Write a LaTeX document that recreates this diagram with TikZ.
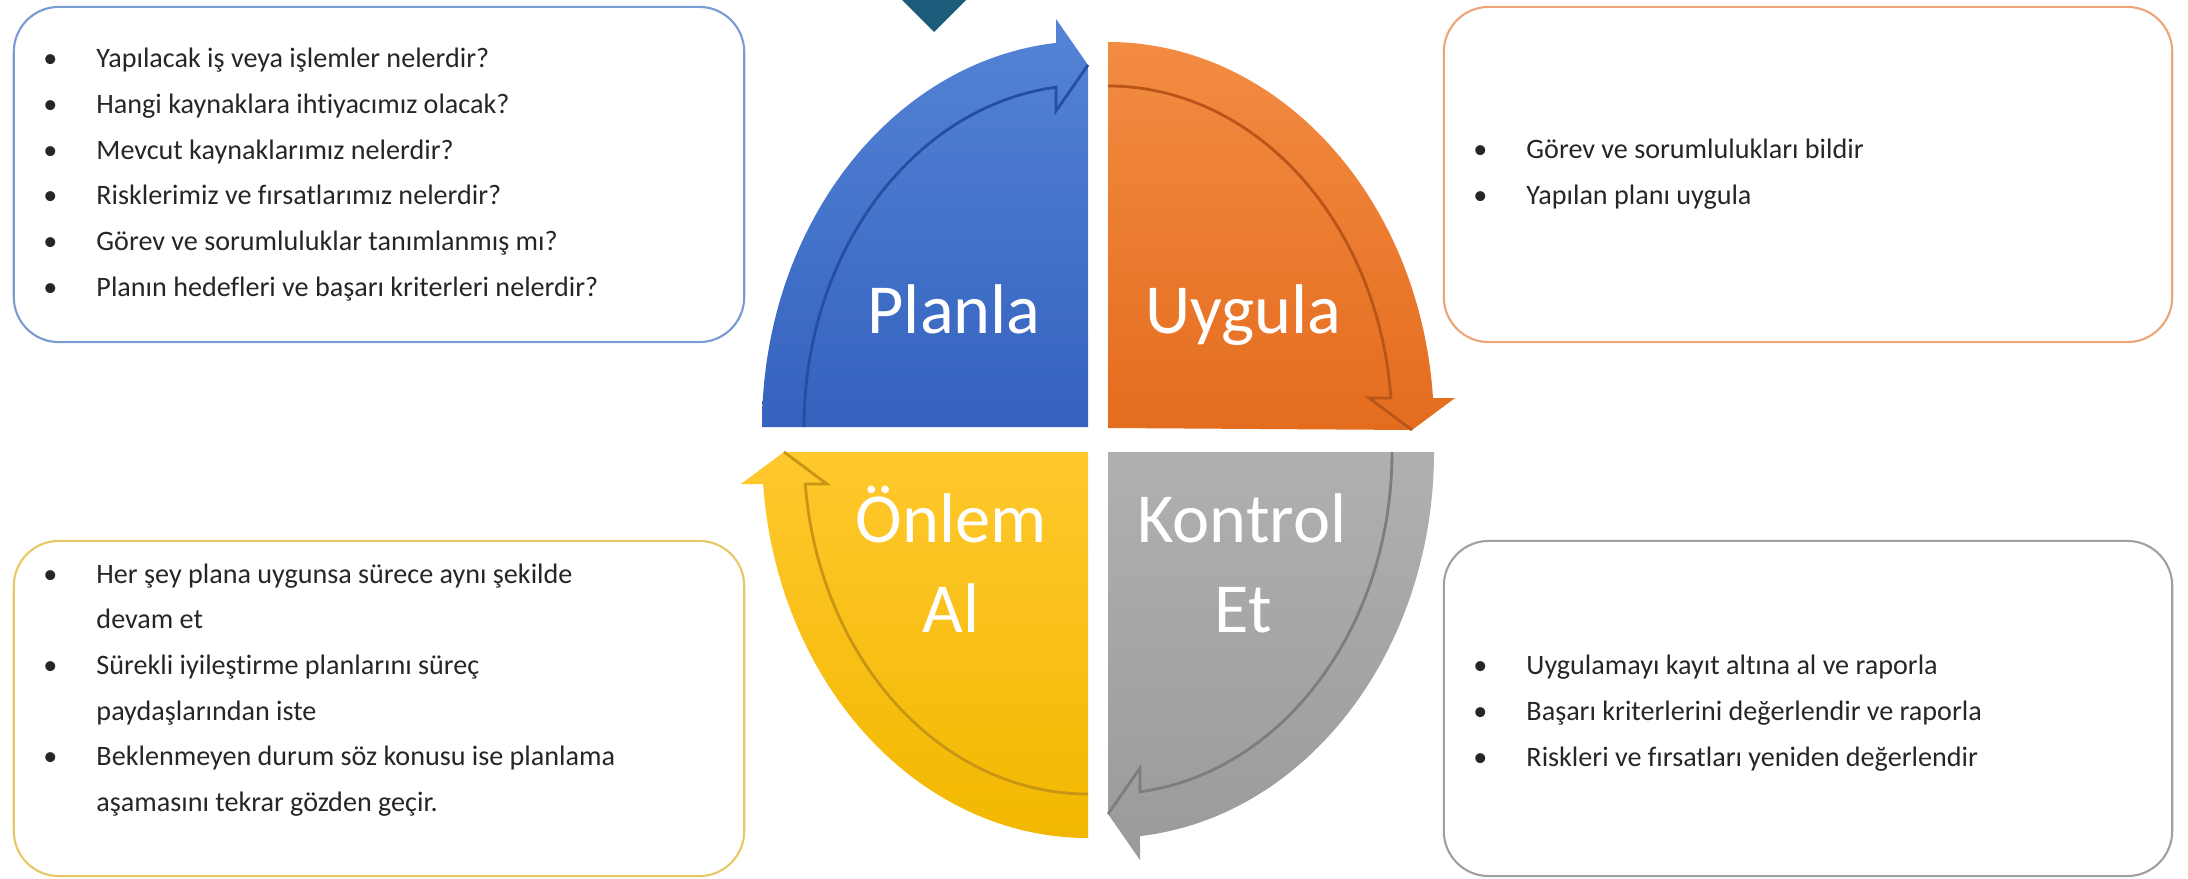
\documentclass[tikz,border=0pt]{standalone}
\usepackage{fontspec}
\setmainfont{Carlito}[Ligatures=NoCommon]
\usetikzlibrary{positioning}

\definecolor{planhi}{RGB}{84,132,214}
\definecolor{planlo}{RGB}{52,98,190}
\definecolor{plandark}{RGB}{38,78,160}
\definecolor{planedge}{RGB}{120,155,210}
\definecolor{uyghi}{RGB}{242,140,66}
\definecolor{uyglo}{RGB}{228,108,30}
\definecolor{uygdark}{RGB}{185,85,25}
\definecolor{uygedge}{RGB}{236,165,120}
\definecolor{konhi}{RGB}{176,176,176}
\definecolor{konlo}{RGB}{154,154,154}
\definecolor{kondark}{RGB}{125,125,125}
\definecolor{konedge}{RGB}{160,160,160}
\definecolor{onlhi}{RGB}{255,200,45}
\definecolor{onllo}{RGB}{242,184,0}
\definecolor{onldark}{RGB}{200,150,20}
\definecolor{onledge}{RGB}{230,200,100}
\definecolor{teal}{RGB}{28,92,122}

\newcommand{\bitem}[1]{\makebox[0.53cm][l]{\textbullet}#1}
\newcommand{\bcont}[1]{\hspace*{0.53cm}#1}

\begin{document}
\begin{tikzpicture}[x=0.01cm, y=0.01cm,
    textbox/.style={draw, line width=0.6pt, rounded corners=0.45cm, fill=white,
        minimum width=7.3cm, minimum height=3.35cm},
    bullets/.style={anchor=west, align=left, inner sep=0pt, text=black!85,
        font=\fontsize{8}{13}\selectfont},
    quadlabel/.style={anchor=base, inner sep=0pt, text=white,
        font=\fontsize{20}{24}\selectfont},
    bandline/.style={line width=0.8pt}
]

\useasboundingbox (0,0) rectangle (2188,878);

% marker at the top
    \fill[teal] (902,878) -- (934,846) -- (966,878) -- cycle;

% planla quadrant
    \shade[top color=planhi, bottom color=planlo] (1088,451) -- (762,451)
        arc[start angle=180, end angle=95.63, x radius=326, y radius=386]
        -- (1056,859) -- (1088,813) -- cycle;
    \draw[bandline, plandark] (804,451)
        arc[start angle=180, end angle=96.47, x radius=284, y radius=342]
        -- (1056,767) -- (1088,813);

% uygula quadrant
    \shade[top color=uyghi, bottom color=uyglo] (1108,450) -- (1108,836)
        arc[start angle=90, end angle=4.457, x radius=326, y radius=386]
        -- (1455,480) -- (1412,448) -- cycle;
    \draw[bandline, uygdark] (1108,792)
        arc[start angle=90, end angle=5.032, x radius=284, y radius=342]
        -- (1369,480) -- (1412,448);

% kontrol quadrant
    \shade[top color=konhi, bottom color=konlo] (1108,426) -- (1434,426)
        arc[start angle=0, end angle=-84.37, x radius=326, y radius=386]
        -- (1140,18) -- (1108,64) -- cycle;
    \draw[bandline, kondark] (1392,426)
        arc[start angle=0, end angle=-83.53, x radius=284, y radius=342]
        -- (1140,110) -- (1108,64);

% onlem quadrant
    \shade[top color=onlhi, bottom color=onllo] (1088,426) -- (1088,40)
        arc[start angle=270, end angle=184.757, x radius=326, y radius=386]
        -- (741,394) -- (784,426) -- cycle;
    \draw[bandline, onldark] (1088,84)
        arc[start angle=270, end angle=185.37, x radius=284, y radius=342]
        -- (827,394) -- (784,426);

% quadrant labels
    \node[quadlabel] (planlbl) at (954,545) {Planla};
    \node[quadlabel] (uyglbl) at (1243,545) {Uygula};
    \node[quadlabel] (onlemlbl) at (951,336) {Önlem};
    \node[quadlabel] (allbl) at (951,246) {Al};
    \node[quadlabel] (kontlbl) at (1242,336) {Kontrol};
    \node[quadlabel] (etlbl) at (1243,246) {Et};

% boxes
    \node[textbox, draw=planedge] (planbox) at (379,703.5) {};
    \node[textbox, draw=uygedge, minimum width=7.28cm] (uygbox) at (1808,703.5) {};
    \node[textbox, draw=onledge] (onlembox) at (379,169.5) {};
    \node[textbox, draw=konedge, minimum width=7.28cm] (kontbox) at (1808,169.5) {};

% box texts
    \node[bullets] (plantext) at ([xshift=0.30cm]planbox.west) {%
        \bitem{Yapılacak iş veya işlemler nelerdir?}\\
        \bitem{Hangi kaynaklara ihtiyacımız olacak?}\\
        \bitem{Mevcut kaynaklarımız nelerdir?}\\
        \bitem{Risklerimiz ve fırsatlarımız nelerdir?}\\
        \bitem{Görev ve sorumluluklar tanımlanmış mı?}\\
        \bitem{Planın hedefleri ve başarı kriterleri nelerdir?}};
    \node[bullets] (uygtext) at ([xshift=0.30cm]uygbox.west) {%
        \bitem{Görev ve sorumlulukları bildir}\\
        \bitem{Yapılan planı uygula}};
    \node[bullets] (onlemtext) at ([xshift=0.30cm, yshift=0.185cm]onlembox.west) {%
        \bitem{Her şey plana uygunsa sürece aynı şekilde}\\
        \bcont{devam et}\\
        \bitem{Sürekli iyileştirme planlarını süreç}\\
        \bcont{paydaşlarından iste}\\
        \bitem{Beklenmeyen durum söz konusu ise planlama}\\
        \bcont{aşamasını tekrar gözden geçir.}};
    \node[bullets] (konttext) at ([xshift=0.30cm, yshift=-0.045cm]kontbox.west) {%
        \bitem{Uygulamayı kayıt altına al ve raporla}\\
        \bitem{Başarı kriterlerini değerlendir ve raporla}\\
        \bitem{Riskleri ve fırsatları yeniden değerlendir}};

\end{tikzpicture}
\end{document}
